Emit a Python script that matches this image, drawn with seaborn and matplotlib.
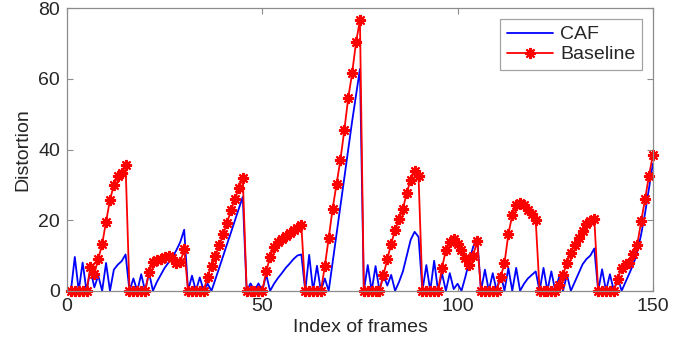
import matplotlib
matplotlib.use("Agg")
import matplotlib.pyplot as plt
import numpy as np
import pandas as pd
import seaborn as sns

# ---- data ----
frames = list(range(1, 151))

caf = [
    0, 9.6, 0, 8, 0, 6, 1, 4.3, 0, 7.9, 0, 6, 7.4, 8.4, 10.3,
    0, 3.5, 0, 4.7, 0, 5.2, 0, 2.5, 4.5, 6.5, 8, 9.5, 11.5, 13.8, 17.3,
    0, 4.3, 0, 3.8, 0, 2, 0, 3.3, 6.6, 10, 13.3, 16.6, 20, 23.3, 26.6,
    0, 2.1, 0, 2.1, 0, 4.6, 0, 2, 3.6, 5, 6.5, 7.7, 9, 10, 10.3,
    0, 10.2, 0, 7.1, 0, 3.5, 0, 8, 16, 24, 32, 40, 48, 55.5, 62.8,
    0, 7.3, 0, 7, 0, 4.5, 1.5, 4.5, 0, 2.5, 5.5, 10, 14.5, 16.7, 15.3,
    0, 7.3, 0, 8.5, 0, 5, 0, 5, 0.5, 2, 0, 4, 8.5, 12.5, 15.3,
    0, 6, 0, 5, 0, 5, 0, 6.5, 0, 6.5, 0, 2, 3.5, 4.5, 5.5,
    0, 6.5, 0, 5.5, 0, 4, 0, 4.5, 0, 2.5, 5, 7.5, 9, 10, 12,
    0, 6.1, 0, 4.7, 0, 3.8, 0, 2.5, 5, 7.5, 11, 16, 22, 29, 36,
]

baseline = [
    0, 0, 0, 0, 0, 6.8, 4.8, 9.0, 13.2, 19.6, 25.7, 30, 32.4, 33.5, 35.5,
    0, 0, 0, 0, 0, 5.2, 8.1, 8.8, 9.0, 9.5, 10, 9.2, 7.9, 8.1, 11.8,
    0, 0, 0, 0, 0, 4.0, 7.1, 9.9, 12.9, 16, 19.3, 22.9, 26, 29, 32,
    0, 0, 0, 0, 0, 5.5, 9.6, 12.4, 13.8, 14.8, 15.5, 16.5, 17.1, 17.9, 18.5,
    0, 0, 0, 0, 0, 6.9, 14.9, 23.2, 30.2, 37.1, 45.5, 54.6, 61.6, 70.4, 76.6,
    0, 0, 0, 0, 0, 4.4, 8.9, 13.4, 17.2, 20.2, 23.2, 27.8, 31.5, 33.8, 32.5,
    0, 0, 0, 0, 0, 6.5, 11.5, 13.8, 14.6, 13.3, 11.7, 9.3, 7.4, 10, 14.1,
    0, 0, 0, 0, 0, 3.8, 7.8, 16, 21.5, 24.2, 24.8, 24.2, 23, 21.7, 20,
    0, 0, 0, 0, 0, 1.6, 4.5, 8, 10.8, 13.1, 15, 16.9, 18.8, 19.7, 20.4,
    0, 0, 0, 0, 0, 3.3, 6.6, 7.7, 8, 10.3, 13.1, 19.7, 26, 32.6, 38.5,
]

x_ticks = [0, 50, 100, 150]
y_ticks = [0, 20, 40, 60, 80]
series_names = ["CAF", "Baseline"]

df = pd.DataFrame({"frame": frames, "CAF": caf, "Baseline": baseline})

# ---- style ----
sns.set_theme(style="white")
plt.rcParams["font.family"] = ["Liberation Sans", "DejaVu Sans"]

FS = 14

fig = plt.figure(figsize=(6.95, 3.45), dpi=100)
ax = fig.add_axes([0.0964, 0.157, 0.843, 0.819])

sns.lineplot(data=df, x="frame", y="CAF", ax=ax, color="#0000ff",
             linewidth=1.3, label=series_names[0])
sns.lineplot(data=df, x="frame", y="Baseline", ax=ax, color="#ff0000",
             linewidth=1.3, marker=(8, 2, 0), markersize=8,
             markeredgewidth=1.5, markeredgecolor="#ff0000",
             markerfacecolor="#ff0000", label=series_names[1], clip_on=False)

ax.set_xlim(0, 150)
ax.set_ylim(0, 80)
ax.set_xticks(x_ticks)
ax.set_yticks(y_ticks)
ax.set_xlabel("Index of frames", fontsize=FS, labelpad=3)
ax.set_ylabel("Distortion", fontsize=FS, labelpad=5)
ax.tick_params(axis="both", which="both", direction="in", length=4,
               width=0.8, color="#8c8c8c", labelsize=FS,
               top=True, right=True, bottom=True, left=True, pad=5)
for s in ax.spines.values():
    s.set_color("#8c8c8c")
    s.set_linewidth(0.9)
    s.set_visible(True)

leg = ax.legend(loc="upper right", fontsize=FS, frameon=True, fancybox=False,
                edgecolor="#8c8c8c", handlelength=2.4, handletextpad=0.35,
                borderpad=0.35, labelspacing=0.12, borderaxespad=0.55)
leg.get_frame().set_linewidth(0.9)

fig.savefig("out.png", dpi=100)
